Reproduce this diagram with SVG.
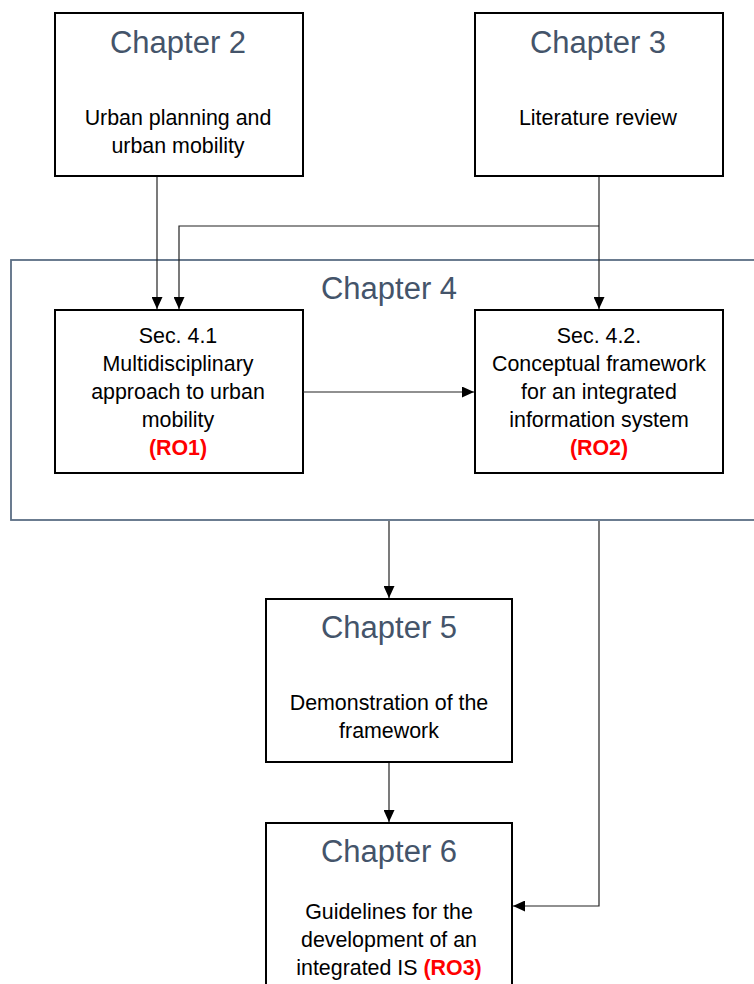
<svg xmlns="http://www.w3.org/2000/svg" width="754" height="984" viewBox="0 0 754 984">
  <style>
    .box { fill: #ffffff; stroke: #000000; stroke-width: 2; }
    .frame { fill: none; stroke: #5b6e84; stroke-width: 1.8; }
    .title { font-family: "Liberation Sans", Arial, sans-serif; font-size: 31px; fill: #44546A; text-anchor: middle; }
    .body { font-family: "Liberation Sans", Arial, sans-serif; font-size: 21.4px; fill: #000000; text-anchor: middle; }
    .ro { fill: #ff0000; font-weight: bold; }
    .wire { fill: none; stroke: #222222; stroke-width: 1.2; }
  </style>
  <defs>
    <marker id="arrow" markerWidth="13" markerHeight="11" refX="12" refY="5.5" orient="auto" markerUnits="userSpaceOnUse">
      <path d="M0,0 L12,5.5 L0,11 Z" fill="#000000"/>
    </marker>
  </defs>
  <rect width="754" height="984" fill="#ffffff"/>

  <!-- Chapter 4 container -->
  <g id="chapter4">
    <rect class="frame" x="11" y="260" width="760" height="260"/>
    <text class="title" x="389" y="299">Chapter 4</text>
  </g>

  <g id="chapter2">
    <rect class="box" x="55" y="13" width="248" height="163"/>
    <text class="title" x="178" y="53">Chapter 2</text>
    <text class="body" x="178" y="125">Urban planning and</text>
    <text class="body" x="178" y="153">urban mobility</text>
  </g>

  <g id="chapter3">
    <rect class="box" x="475" y="13" width="248" height="163"/>
    <text class="title" x="598" y="53">Chapter 3</text>
    <text class="body" x="598" y="125">Literature review</text>
  </g>

  <g id="sec41">
    <rect class="box" x="55" y="310" width="248" height="163"/>
    <text class="body" x="178" y="343">Sec. 4.1</text>
    <text class="body" x="178" y="371">Multidisciplinary</text>
    <text class="body" x="178" y="399">approach to urban</text>
    <text class="body" x="178" y="427">mobility</text>
    <text class="body ro" x="178" y="455">(RO1)</text>
  </g>

  <g id="sec42">
    <rect class="box" x="475" y="310" width="248" height="163"/>
    <text class="body" x="599" y="343">Sec. 4.2.</text>
    <text class="body" x="599" y="371">Conceptual framework</text>
    <text class="body" x="599" y="399">for an integrated</text>
    <text class="body" x="599" y="427">information system</text>
    <text class="body ro" x="599" y="455">(RO2)</text>
  </g>

  <g id="chapter5">
    <rect class="box" x="266" y="599" width="246" height="163"/>
    <text class="title" x="389" y="638">Chapter 5</text>
    <text class="body" x="389" y="710">Demonstration of the</text>
    <text class="body" x="389" y="738">framework</text>
  </g>

  <g id="chapter6">
    <rect class="box" x="266" y="823" width="246" height="180"/>
    <text class="title" x="389" y="862">Chapter 6</text>
    <text class="body" x="389" y="919">Guidelines for the</text>
    <text class="body" x="389" y="947">development of an</text>
    <text class="body" x="389" y="975">integrated IS <tspan class="ro">(RO3)</tspan></text>
  </g>

  <g id="connectors">
    <path class="wire" d="M157,177 V309" marker-end="url(#arrow)"/>
    <path class="wire" d="M599,177 V309" marker-end="url(#arrow)"/>
    <path class="wire" d="M599,226 H179 V309" marker-end="url(#arrow)"/>
    <path class="wire" d="M303,392 H474" marker-end="url(#arrow)"/>
    <path class="wire" d="M389,521 V598" marker-end="url(#arrow)"/>
    <path class="wire" d="M389,763 V822" marker-end="url(#arrow)"/>
    <path class="wire" d="M599,521 V906 H513" marker-end="url(#arrow)"/>
  </g>
</svg>
